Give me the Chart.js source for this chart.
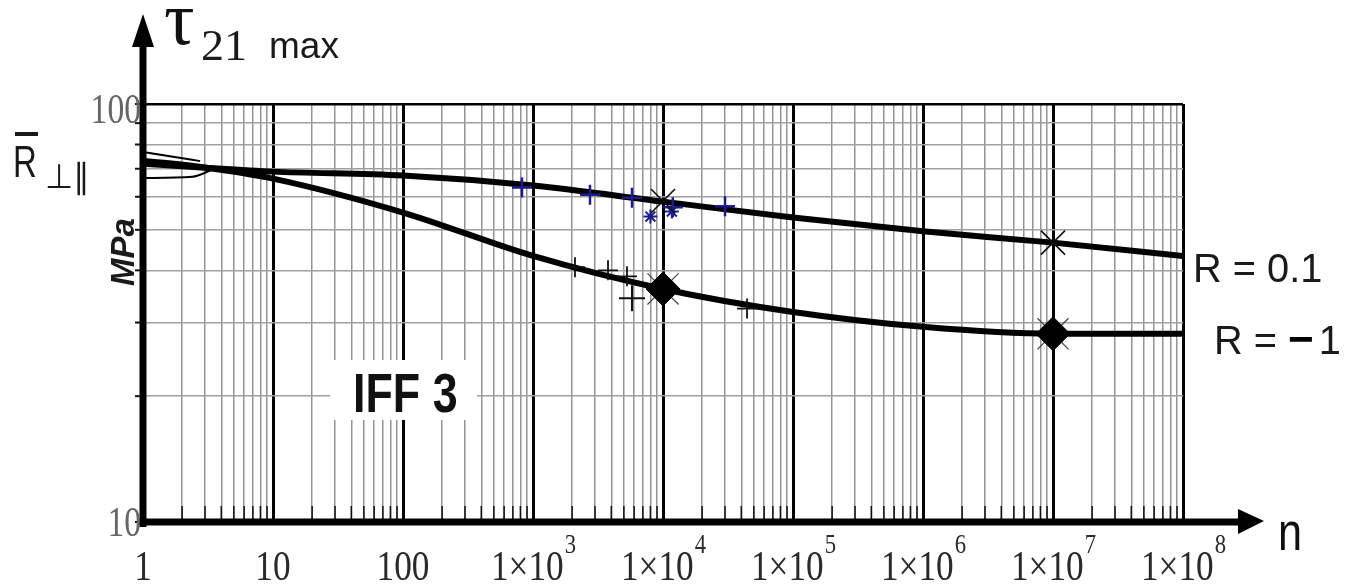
<!DOCTYPE html>
<html><head><meta charset="utf-8">
<script src="https://cdn.jsdelivr.net/npm/chart.js@4.4.0/dist/chart.umd.min.js"></script>
<style>html,body{margin:0;padding:0;background:#fff;}canvas{display:block;}</style>
</head><body>
<canvas id="c" width="1345" height="587"></canvas>
<script>
// ---- data ----
const nCurve   = [1, 3, 10, 100, 1e3, 1e4, 1e5, 1e6, 1e7, 1e8];
const tauR01   = [72.0, 70.4, 68.9, 67.4, 63.8, 58.4, 53.5, 49.6, 46.6, 43.3];
const tauRm1   = [73.2, 70.5, 66.3, 55.0, 43.3, 36.1, 31.8, 29.3, 28.2, 28.2];
const nFitUp   = [1, 1.8, 2.75];
const tauFitUp = [76.8, 74.6, 73.0];
const nFitLo   = [1, 2.4, 3.4];
const tauFitLo = [66.5, 67.0, 69.6];
const nTestR01   = [823, 2744, 5775, 11900, 30000];
const tauTestR01 = [63.1, 60.7, 59.7, 56.6, 56.9];
const nStarR01   = [8000, 11700];
const tauStarR01 = [53.8, 55.3];
const nTestRm1   = [2104, 3776, 5285, 44300];
const tauTestRm1 = [40.7, 40.0, 38.7, 32.4];
const nBigPlus   = [5775];
const tauBigPlus = [34.3];
const nMeanR01   = [1e4, 1e7];
const tauMeanR01 = [58.6, 46.6];
const nMeanRm1   = [1e4, 1e7];
const tauMeanRm1 = [36.1, 28.2];
const xDecades = [1, 10, 100, 1e3, 1e4, 1e5, 1e6, 1e7, 1e8];
const xTickBase = ['1', '10', '100', '1×10', '1×10', '1×10', '1×10', '1×10', '1×10'];
const xTickSup  = ['', '', '', '3', '4', '5', '6', '7', '8'];
const yDecades = [10, 100];
const yTickLabels = ['10', '100'];
const seriesLabels = ['R = 0.1', 'R = − 1'];

const pts = (xs, ys) => xs.map((x, i) => ({x, y: ys[i]}));
const isDecade = v => Math.abs(Math.log10(v) - Math.round(Math.log10(v))) < 1e-9;
function gridValues(decs) {
  const out = [];
  for (let i = 0; i < decs.length - 1; i++) for (let d = 1; d <= 9; d++) out.push(decs[i] * d);
  out.push(decs[decs.length - 1]);
  return out;
}
const xGrid = gridValues(xDecades);
const yGrid = gridValues(yDecades);

function txt(ctx, s, x, y, font, color, align, sx, sy) {
  ctx.save();
  ctx.font = font; ctx.fillStyle = color; ctx.textBaseline = 'alphabetic';
  ctx.textAlign = align || 'left';
  ctx.translate(x, y); ctx.scale(sx || 1, sy || 1);
  ctx.fillText(s, 0, 0);
  ctx.restore();
}

const deco = {
  id: 'deco',
  afterDatasetsDraw(chart) {
    const ctx = chart.ctx, xs = chart.scales.x, ys = chart.scales.y;
    const x0 = xs.getPixelForValue(1), yb = ys.getPixelForValue(10);
    ctx.save();
    ctx.strokeStyle = '#111'; ctx.lineWidth = 1.5;
    xGrid.forEach(v => { if (!isDecade(v)) { const p = xs.getPixelForValue(v);
      ctx.beginPath(); ctx.moveTo(p, yb - 16); ctx.lineTo(p, yb); ctx.stroke(); } });
    ctx.lineWidth = 2;
    yGrid.forEach(v => { const p = ys.getPixelForValue(v);
      ctx.beginPath(); ctx.moveTo(x0 - 8, p); ctx.lineTo(x0, p); ctx.stroke(); });
    ctx.fillStyle = '#000'; ctx.strokeStyle = '#000'; ctx.lineWidth = 7;
    ctx.beginPath(); ctx.moveTo(x0, yb + 5); ctx.lineTo(x0, 42); ctx.stroke();
    ctx.beginPath(); ctx.moveTo(x0 - 4, yb); ctx.lineTo(1245, yb); ctx.stroke();
    ctx.beginPath(); ctx.moveTo(x0, 14); ctx.lineTo(x0 - 11, 47); ctx.lineTo(x0 + 11, 47); ctx.closePath(); ctx.fill();
    ctx.beginPath(); ctx.moveTo(1264, yb - 1); ctx.lineTo(1238, yb - 13); ctx.lineTo(1238, yb + 12); ctx.closePath(); ctx.fill();
    ctx.restore();
  },
  afterDraw(chart) {
    const ctx = chart.ctx, xs = chart.scales.x, ys = chart.scales.y;
    const serif = 'Liberation Serif', sans = 'Liberation Sans';
    const fMain = '42px "' + serif + '"', fSup = '27px "' + serif + '"', sxL = 0.84;
    xDecades.forEach((v, i) => {
      const p = xs.getPixelForValue(v);
      ctx.font = fMain;
      const w1 = ctx.measureText(xTickBase[i]).width * sxL;
      ctx.font = fSup;
      const w2 = xTickSup[i] ? ctx.measureText(xTickSup[i]).width * sxL : 0;
      const start = p - (w1 + w2) / 2;
      txt(ctx, xTickBase[i], start, 580, fMain, '#2a2a2a', 'left', sxL, 1);
      if (xTickSup[i]) txt(ctx, xTickSup[i], start + w1 + 1, 553, fSup, '#2a2a2a', 'left', sxL, 1);
    });
    const x0 = xs.getPixelForValue(1);
    txt(ctx, yTickLabels[1], x0 - 2, ys.getPixelForValue(100) + 19, '42px "' + serif + '"', '#666', 'right', 0.8, 1);
    txt(ctx, yTickLabels[0], x0 - 2, ys.getPixelForValue(10) + 14, '42px "' + serif + '"', '#666', 'right', 0.8, 1);
    // y title
    txt(ctx, 'τ', 164, 44, '76px "' + serif + '"', '#111', 'left', 1, 1);
    txt(ctx, '21', 201, 60, '44px "' + serif + '"', '#1a1a1a', 'left', 1.05, 1);
    txt(ctx, 'max', 269, 58, '37px "' + sans + '"', '#1a1a1a', 'left', 1, 1);
    // R-bar perp par
    txt(ctx, 'R', 13, 177, '44px "' + sans + '"', '#1a1a1a', 'left', 0.75, 1);
    ctx.save(); ctx.fillStyle = '#1a1a1a'; ctx.fillRect(15, 132, 23, 4); ctx.restore();
    txt(ctx, '⊥∥', 45, 188, '34px "DejaVu Sans"', '#1a1a1a', 'left', 0.95, 1);
    // MPa
    ctx.save(); ctx.translate(134, 252); ctx.rotate(-Math.PI / 2);
    txt(ctx, 'MPa', 0, 0, 'italic bold 33px "' + sans + '"', '#1a1a1a', 'center', 1, 1);
    ctx.restore();
    // IFF 3
    ctx.save(); ctx.fillStyle = '#fff'; ctx.fillRect(330, 360, 147, 60); ctx.restore();
    txt(ctx, 'IFF 3', 353, 412, 'bold 56px "' + sans + '"', '#111', 'left', 0.8, 1);
    // series labels
    txt(ctx, seriesLabels[0], 1193, 282, '41px "' + sans + '"', '#1a1a1a', 'left', 0.97, 1);
    txt(ctx, 'R = ', 1214, 354, '41px "' + sans + '"', '#1a1a1a', 'left', 0.97, 1);
    ctx.font = '41px "' + sans + '"';
    const wR = ctx.measureText('R = ').width * 0.97;
    txt(ctx, '−', 1214 + wR, 354, 'bold 44px "' + sans + '"', '#000', 'left', 1, 1);
    ctx.font = 'bold 44px "' + sans + '"';
    const wM = ctx.measureText('−').width;
    txt(ctx, ' 1', 1214 + wR + wM - 6, 354, '41px "' + sans + '"', '#1a1a1a', 'left', 0.97, 1);
    txt(ctx, 'n', 1278, 550, '54px "' + sans + '"', '#111', 'left', 0.8, 1);
  }
};

const lineDs = (label, data, w, order) => ({
  label, data, showLine: true, borderColor: '#000', borderWidth: w, pointRadius: 0,
  tension: 0.35, cubicInterpolationMode: 'monotone', order, fill: false
});
const markDs = (label, data, style, r, color, bw, fillc, order) => ({
  label, data, showLine: false, pointStyle: style, pointRadius: r, pointBorderColor: color,
  pointBackgroundColor: fillc || color, pointBorderWidth: bw, order
});

new Chart(document.getElementById('c'), {
  type: 'scatter',
  data: {
    datasets: [
      markDs('mean R=-1 diamond', pts(nMeanRm1, tauMeanRm1), 'rectRot', 17, '#000', 1, '#000', 0),
      markDs('mean R=-1 cross', pts(nMeanRm1, tauMeanRm1), 'crossRot', 22, '#444', 1.2, null, 1),
      markDs('mean R=0.1', pts(nMeanR01, tauMeanR01), 'crossRot', 17, '#111', 1.6, null, 1),
      markDs('tests R=0.1', pts(nTestR01, tauTestR01), 'cross', 10, '#1c1c8a', 2.5, null, 1),
      markDs('tests R=0.1 b', pts(nStarR01, tauStarR01), 'star', 7, '#1c1c8a', 2, null, 1),
      markDs('tests R=-1', pts(nTestRm1, tauTestRm1), 'cross', 10, '#111', 1.8, null, 1),
      markDs('tests R=-1 big', pts(nBigPlus, tauBigPlus), 'cross', 13, '#111', 2, null, 1),
      lineDs('R = 0.1', pts(nCurve, tauR01), 6, 2),
      lineDs('R = -1', pts(nCurve, tauRm1), 6, 2),
      lineDs('fit upper', pts(nFitUp, tauFitUp), 2, 2),
      lineDs('fit lower', pts(nFitLo, tauFitLo), 2, 2)
    ]
  },
  options: {
    responsive: false, animation: false, devicePixelRatio: 1,
    layout: { padding: { left: 143, right: 162, top: 104, bottom: 65 } },
    plugins: { legend: { display: false }, tooltip: { enabled: false } },
    scales: {
      x: {
        type: 'logarithmic', min: 1, max: 1e8,
        afterBuildTicks: s => { s.ticks = xGrid.map(v => ({ value: v })); },
        ticks: { display: false, autoSkip: false },
        border: { display: false },
        grid: { drawTicks: false,
          color: c => isDecade(c.tick.value) ? '#000' : '#949494',
          lineWidth: c => isDecade(c.tick.value) ? 3 : 1.5 }
      },
      y: {
        type: 'logarithmic', min: 10, max: 100,
        afterBuildTicks: s => { s.ticks = yGrid.map(v => ({ value: v })); },
        ticks: { display: false, autoSkip: false },
        border: { display: false },
        grid: { drawTicks: false,
          color: c => isDecade(c.tick.value) ? '#000' : '#a0a0a0',
          lineWidth: c => isDecade(c.tick.value) ? 2.5 : 1.5 }
      }
    }
  },
  plugins: [deco]
});
</script>
</body></html>
